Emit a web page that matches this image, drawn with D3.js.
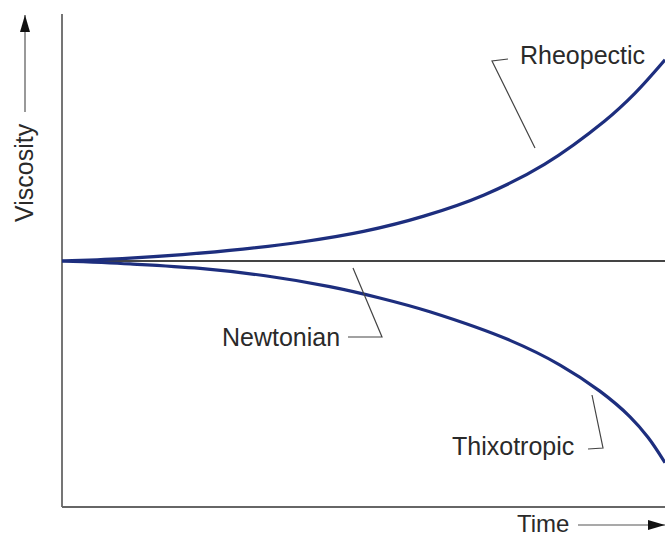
<!DOCTYPE html>
<html><head><meta charset="utf-8">
<script src="https://cdn.jsdelivr.net/npm/d3@7"></script>
<style>body{margin:0;background:#fff}svg{display:block}text{font-family:"Liberation Sans",Arial,sans-serif;fill:#2a2a2a}</style>
</head><body><svg id="c" width="665" height="538"></svg>
<script>
const seriesNames = ["Rheopectic","Newtonian","Thixotropic"];
const rheoTime = [0,10,20,30,40,50,60,70,80,90,95,100];
const rheoVisc = [49.9,50.4,51.2,52.3,53.8,55.9,59.0,63.3,69.5,78.3,83.9,90.7];
const newtTime = [0,100];
const newtVisc = [49.9,49.9];
const thixTime = [0,11.3,22.9,33.7,44.4,52.7,61.0,74.3,82.6,89.2,94.2,97.2,100];
const thixVisc = [49.9,49.3,48.4,46.9,44.7,42.4,39.6,33.8,28.8,23.5,18.3,14.1,9.0];
const axisLabels = ["Viscosity","Time"];

const svg = d3.select("#c");
const x = d3.scaleLinear().domain([0,100]).range([62,665]);
const y = d3.scaleLinear().domain([0,100]).range([507,14]);
const line = d3.line().x(d=>x(d[0])).y(d=>y(d[1])).curve(d3.curveCatmullRom);

svg.append("defs").append("marker").attr("id","ah").attr("viewBox","0 0 10 10")
  .attr("refX",10).attr("refY",5).attr("markerWidth",17).attr("markerHeight",10).attr("markerUnits","userSpaceOnUse").attr("orient","auto")
  .attr("preserveAspectRatio","none")
  .append("path").attr("d","M0,0L10,5L0,10Z").attr("fill","#111");

// axes
svg.append("line").attr("x1",x(0)).attr("x2",x(0)).attr("y1",y(100)).attr("y2",y(0)).attr("stroke","#666").attr("stroke-width",1.8);
svg.append("line").attr("x1",x(0)).attr("x2",x(100)).attr("y1",y(0)).attr("y2",y(0)).attr("stroke","#666").attr("stroke-width",1.8);

// Newtonian
svg.append("path").attr("d",line(newtTime.map((t,i)=>[t,newtVisc[i]]))).attr("fill","none").attr("stroke","#444").attr("stroke-width",2);
// curves
[[rheoTime,rheoVisc],[thixTime,thixVisc]].forEach(([t,v])=>{
  svg.append("path").attr("d",line(t.map((tt,i)=>[tt,v[i]]))).attr("fill","none").attr("stroke","#1d2e7e").attr("stroke-width",3.2);
});

// leader lines
const leader = pts => svg.append("polyline").attr("points",pts.map(p=>p.join(",")).join(" ")).attr("fill","none").attr("stroke","#444").attr("stroke-width",1.2);
leader([[535,148],[492,61],[508,59]]);
leader([[353,268],[382,337],[348,337]]);
leader([[592,395],[603,448],[588,449]]);

svg.append("text").attr("x",520).attr("y",64).attr("font-size",25).text(seriesNames[0]);
svg.append("text").attr("x",222).attr("y",346).attr("font-size",25).text(seriesNames[1]);
svg.append("text").attr("x",452).attr("y",455).attr("font-size",25).text(seriesNames[2]);

// axis titles with arrows
svg.append("text").attr("transform","translate(33,222) rotate(-90)").attr("font-size",25).text(axisLabels[0]);
svg.append("line").attr("x1",25).attr("x2",25).attr("y1",112).attr("y2",15).attr("stroke","#555").attr("stroke-width",1.2).attr("marker-end","url(#ah)");
svg.append("text").attr("x",517).attr("y",532).attr("font-size",24).text(axisLabels[1]);
svg.append("line").attr("x1",578).attr("x2",665).attr("y1",525).attr("y2",525).attr("stroke","#555").attr("stroke-width",1.2).attr("marker-end","url(#ah)");
</script></body></html>
